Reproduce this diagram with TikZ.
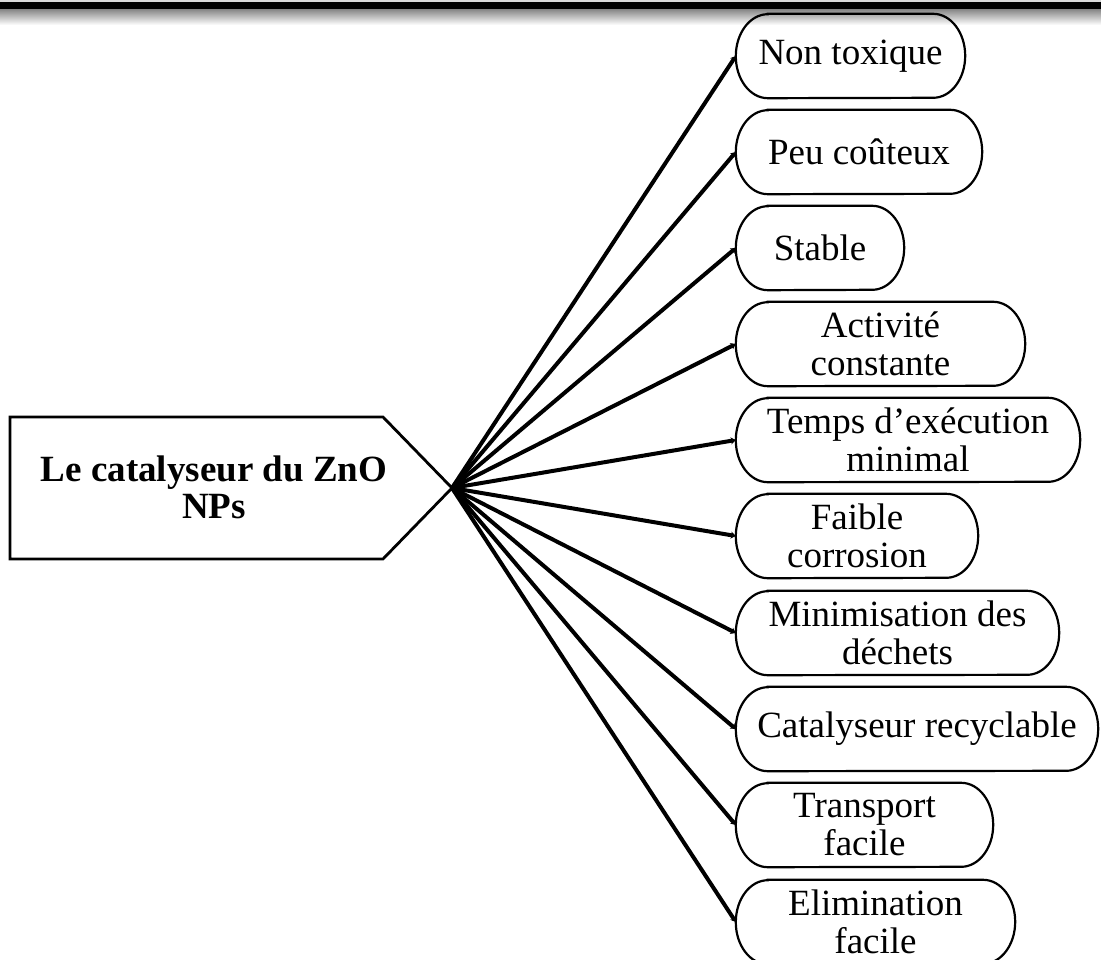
\documentclass[tikz,border=0pt]{standalone}
\usepackage{fontspec}
\setmainfont{Liberation Serif}
\usetikzlibrary{arrows.meta}
\begin{document}
\begin{tikzpicture}[x=1pt,y=-1pt,
  pilltext/.style={inner sep=0pt, align=center, font=\fontsize{37}{38}\selectfont, minimum height=84pt},
  maintext/.style={inner sep=0pt, align=center, font=\fontsize{37}{37}\selectfont\bfseries},
  link/.style={line width=4pt, -{Stealth[length=5pt,width=7pt]}},
  outline/.style={line width=2.2pt}
]
\useasboundingbox (0,0) rectangle (1101,960);
% top bar
\fill[black!15] (0,0) rectangle (1101,2);
\fill[black] (0,2) rectangle (1101,10);
\shade[top color=black!45, bottom color=white] (0,10) rectangle (1101,25);

% main shape
\draw[line width=2.8pt, line join=miter, fill=white] (10,417) -- (383,417) -- (452,488) -- (383,559) -- (10,559) -- cycle;
\coordinate (tip) at (452,488);
\node[maintext] (main) at (214,487) {Le catalyseur du ZnO\\NPs};

% boxes: name / center y / right x / text
\foreach \n/\cy/\rx/\t in {
  b1/56/965/{Non toxique},
  b2/152/982/{Peu coûteux},
  b3/248/904/{Stable},
  b4/344/1025/{Activité\\constante},
  b5/440/1080/{Temps d’exécution\\minimal},
  b6/536/978/{Faible\\corrosion},
  b7/633/1059/{Minimisation des\\déchets},
  b8/729/1098/{Catalyseur recyclable},
  b9/825/993/{Transport\\facile},
  b10/922/1015/{Elimination\\facile}}{
  \pgfmathsetmacro{\w}{\rx-736}
  \node[pilltext, minimum width=\w pt] (\n) at ({(736+\rx)/2},\cy) {\t};
  \draw[outline] ([xshift=32pt]\n.north west) -- ([xshift=-32pt]\n.north east)
     arc[start angle=90, end angle=-90, x radius=32pt, y radius=42pt]
     -- ([xshift=32pt]\n.south west)
     arc[start angle=270, end angle=90, x radius=32pt, y radius=42pt] -- cycle;
  \draw[link] (tip) -- (\n.west);
}
\end{tikzpicture}
\end{document}
